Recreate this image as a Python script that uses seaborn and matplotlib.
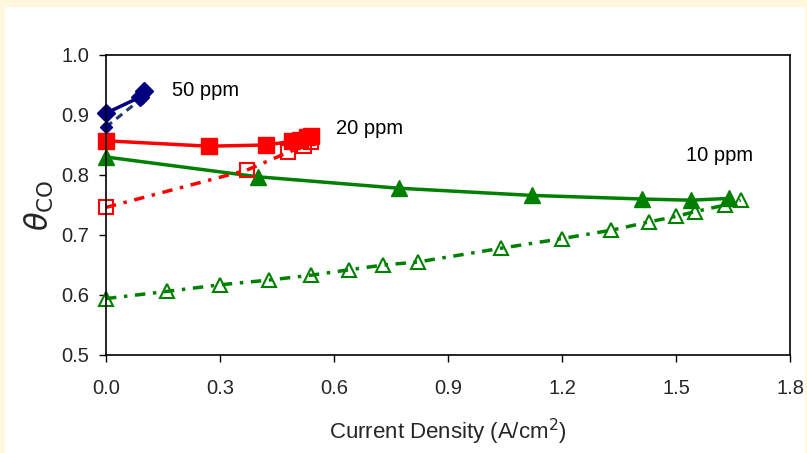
import matplotlib
matplotlib.use("Agg")
import matplotlib.pyplot as plt
import seaborn as sns
import pandas as pd
from matplotlib.patches import Rectangle

# ---- data ----
x50_solid = [0.0, 0.09, 0.10]
y50_solid = [0.903, 0.930, 0.940]
x50_dash = [0.0, 0.095]
y50_dash = [0.880, 0.928]

x20_solid = [0.0, 0.27, 0.42, 0.49, 0.51, 0.53, 0.54]
y20_solid = [0.857, 0.848, 0.850, 0.856, 0.859, 0.863, 0.865]
x20_dot = [0.0, 0.37, 0.48, 0.52, 0.54]
y20_dot = [0.746, 0.808, 0.838, 0.848, 0.855]

x10_solid = [0.0, 0.40, 0.77, 1.12, 1.41, 1.54, 1.64]
y10_solid = [0.830, 0.797, 0.778, 0.766, 0.760, 0.758, 0.761]
x10_dot = [0.0, 0.16, 0.30, 0.43, 0.54, 0.64, 0.73, 0.82, 1.04, 1.20,
           1.33, 1.43, 1.50, 1.55, 1.63, 1.67]
y10_dot = [0.594, 0.606, 0.617, 0.625, 0.633, 0.642, 0.650, 0.655, 0.678,
           0.694, 0.708, 0.722, 0.731, 0.739, 0.750, 0.758]

labels = ["50 ppm", "20 ppm", "10 ppm"]
label_pos = [(0.175, 0.941), (0.605, 0.877), (1.525, 0.833)]
xticks = [0.0, 0.3, 0.6, 0.9, 1.2, 1.5, 1.8]
yticks = [0.5, 0.6, 0.7, 0.8, 0.9, 1.0]

sns.set_style("white")
plt.rcParams['font.family'] = ['Liberation Sans', 'DejaVu Sans']
plt.rcParams['mathtext.fontset'] = 'dejavusans'

fig = plt.figure(figsize=(8.07, 4.53), dpi=100, facecolor='#FFF8DE')
fig.patches.append(Rectangle((5/807, 0), 800/807, 446/453, transform=fig.transFigure,
                             facecolor='white', edgecolor='none', zorder=-1))
ax = fig.add_axes([106/807, (453-355)/453, 684/807, 300/453])
ax.set_facecolor('white')

navy, red, green = '#000080', '#FF0000', '#008000'
dashdot = (3, 2.2, 1, 2.2)

def draw(x, y, color, marker, ms, ls, lw, mfc, mew=1.5, dashes=None, z=2):
    df = pd.DataFrame({'x': x, 'y': y})
    sns.lineplot(data=df, x='x', y='y', ax=ax, color=color, sort=False,
                 estimator=None, marker=marker, markersize=ms, linewidth=lw,
                 markerfacecolor=mfc, markeredgecolor=color, markeredgewidth=mew,
                 zorder=z)
    line = ax.lines[-1]
    line.set_clip_on(False)
    if dashes is not None:
        line.set_dashes(dashes)
    elif ls is not None:
        line.set_linestyle(ls)

draw(x10_dot, y10_dot, green, '^', 10.5, None, 2.5, 'none', 1.5, dashdot)
draw(x10_solid, y10_solid, green, '^', 11, '-', 2.5, green, 1)
draw(x20_dot, y20_dot, red, 's', 10.5, None, 2.5, 'none', 1.5, dashdot)
draw(x20_solid, y20_solid, red, 's', 11.5, '-', 2.5, red, 1)
draw(x50_dash, y50_dash, '#1F3A6E', 'D', 6.5, None, 2.2, navy, 1, (2.5, 1.8))
ax.lines[-1].set_markerfacecolor(navy); ax.lines[-1].set_markeredgecolor(navy)
draw(x50_solid, y50_solid, navy, 'D', 9.5, '-', 2.5, navy, 1)

for t, (lx, ly) in zip(labels, label_pos):
    ax.text(lx, ly, t, fontsize=14.5, color='black', ha='left', va='center')

ax.set_xlim(0, 1.8)
ax.set_ylim(0.5, 1.0)
ax.set_xticks(xticks)
ax.set_yticks(yticks)
ax.set_xticklabels([f"{v:.1f}" for v in xticks], fontsize=14.5)
ax.set_yticklabels([f"{v:.1f}" for v in yticks], fontsize=14.5)
ax.tick_params(axis='x', direction='out', length=5, width=1, color='black',
               bottom=True, pad=12)
ax.tick_params(axis='y', direction='out', length=5, width=1, color='black',
               left=True, pad=7)
for s in ax.spines.values():
    s.set_color('black')
    s.set_linewidth(1.2)
ax.set_xlabel('Current Density (A/cm$^2$)', fontsize=16, labelpad=14)
ax.set_ylabel(r'$\theta_{\rm CO}$', fontsize=22, labelpad=4)
ax.grid(False)

fig.savefig('out.png', dpi=100, facecolor=fig.get_facecolor())
